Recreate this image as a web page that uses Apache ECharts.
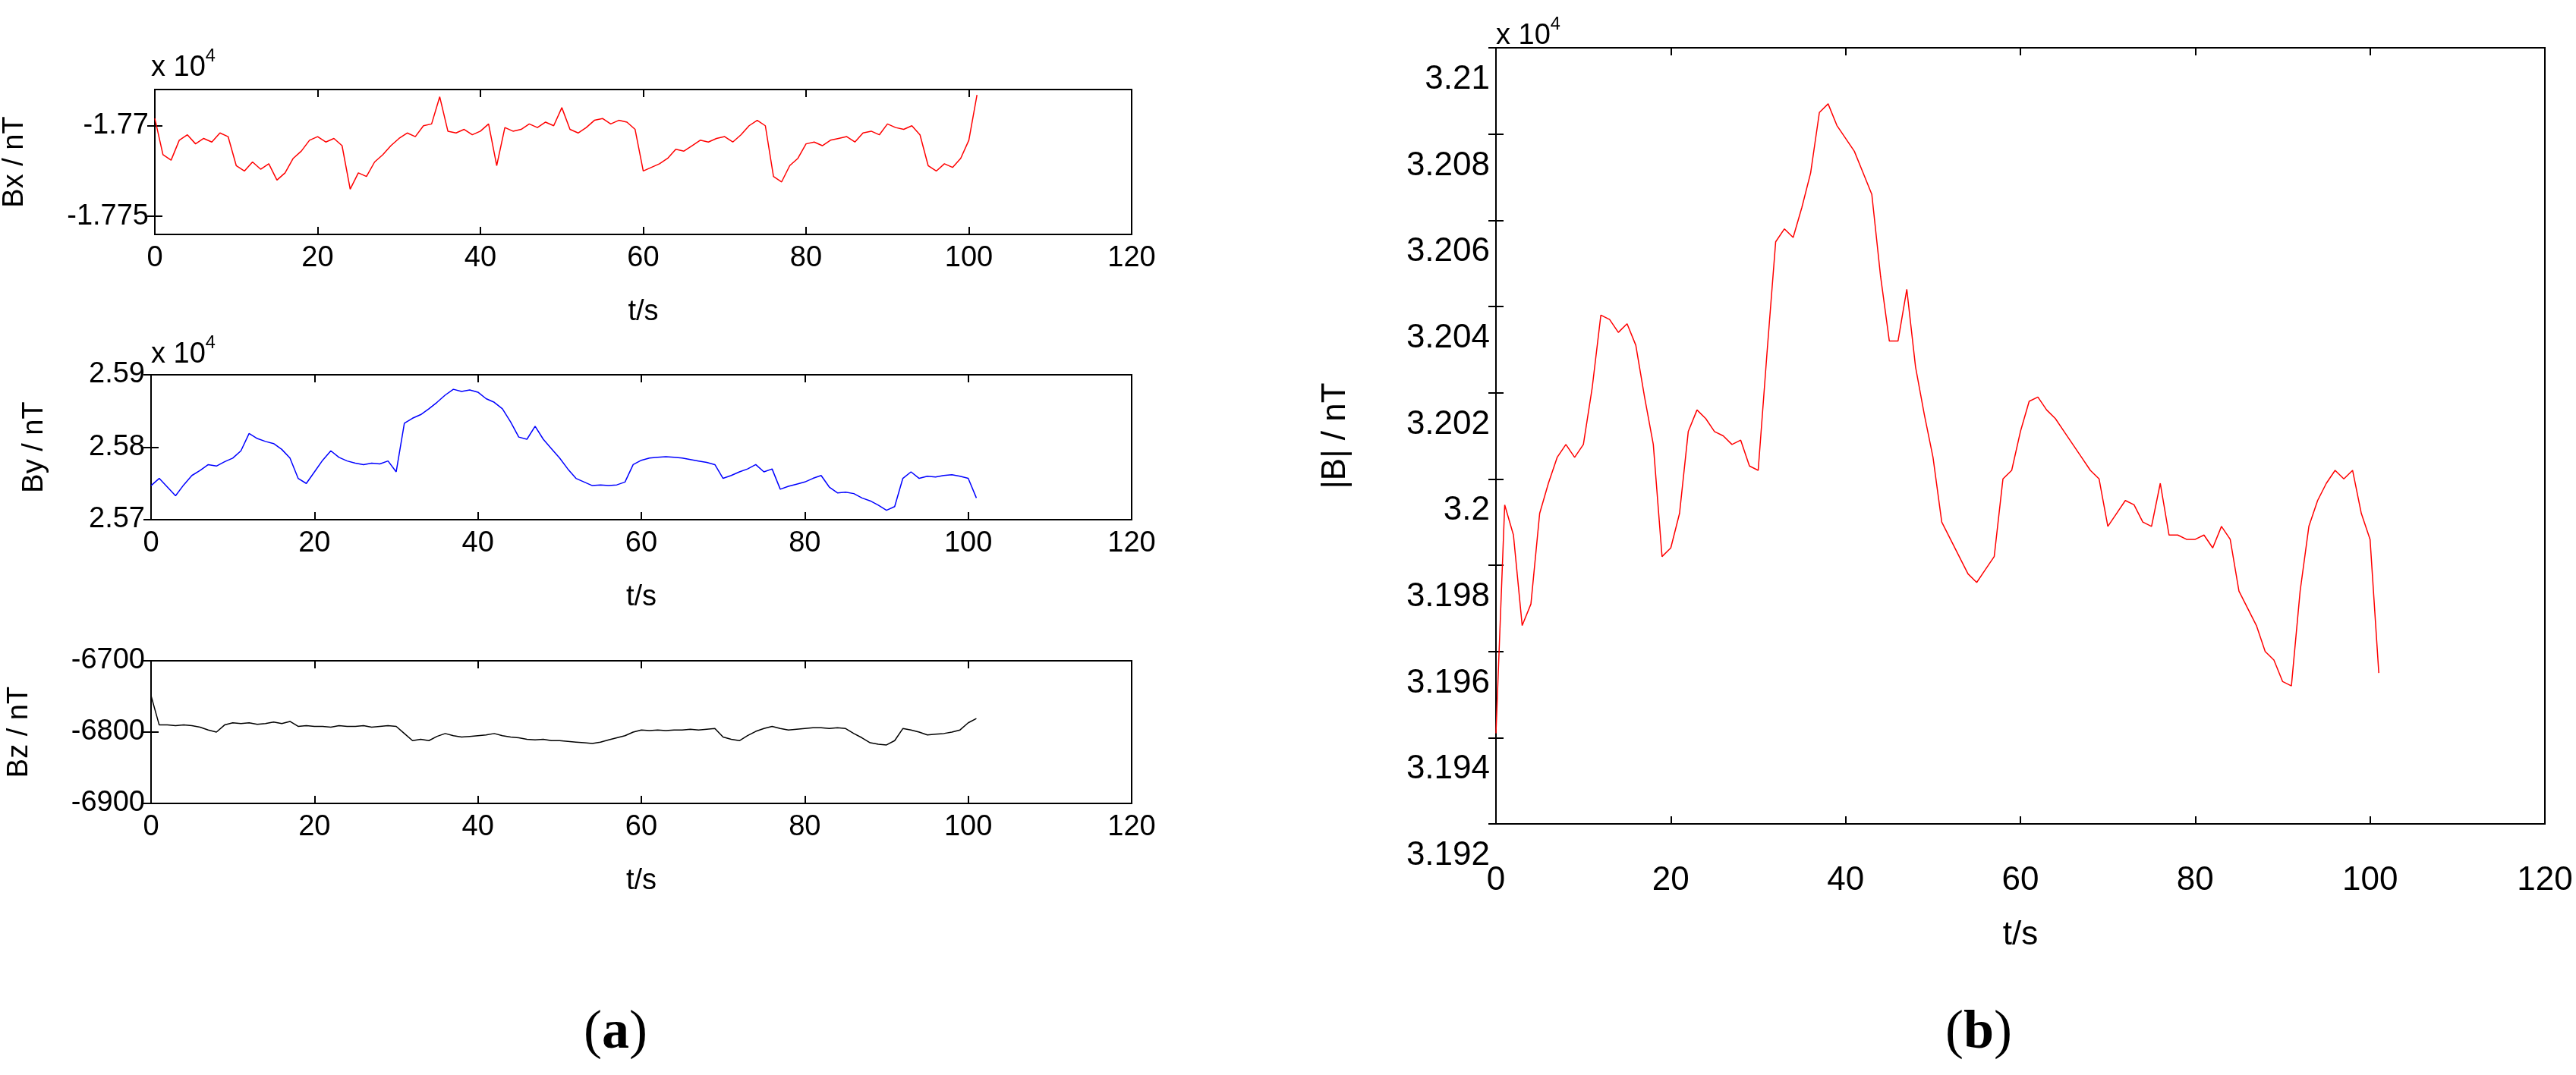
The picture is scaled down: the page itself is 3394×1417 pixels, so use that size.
<!DOCTYPE html>
<html>
<head>
<meta charset="utf-8">
<script src="https://cdn.jsdelivr.net/npm/echarts@6/dist/echarts.min.js"></script>
<style>html,body{margin:0;padding:0;background:#fff}#main{width:3394px;height:1417px}</style>
</head>
<body>
<div id="main"></div>
<script>
// time in seconds (one reading per second)
var tSec = [];
for (var i = 0; i <= 101; i++) tSec.push(i);

var bxVals = [-17696,-17716,-17719,-17708,-17705,-17710,-17707,-17709,-17704,-17706,
-17722,-17725,-17720,-17724,-17721,-17730,-17726,-17718,-17714,-17708,
-17706,-17709,-17707,-17711,-17735,-17726,-17728,-17720,-17716,-17711,
-17707,-17704,-17706,-17700,-17699,-17684,-17703,-17704,-17702,-17705,
-17703,-17699,-17722,-17701,-17703,-17702,-17699,-17701,-17698,-17700,
-17690,-17702,-17704,-17701,-17697,-17696,-17699,-17697,-17698,-17702,
-17725,-17723,-17721,-17718,-17713,-17714,-17711,-17708,-17709,-17707,
-17706,-17709,-17705,-17700,-17697,-17700,-17728,-17731,-17722,-17718,
-17710,-17709,-17711,-17708,-17707,-17706,-17709,-17704,-17703,-17705,
-17699,-17701,-17702,-17700,-17705,-17722,-17725,-17721,-17723,-17718,
-17708,-17683];

var byVals = [25747,25757,25745,25733,25748,25761,25768,25776,25774,25780,
25785,25795,25819,25812,25808,25805,25797,25785,25757,25750,
25766,25782,25795,25786,25781,25778,25776,25778,25777,25781,
25766,25833,25840,25845,25853,25862,25872,25880,25877,25879,
25876,25867,25862,25853,25835,25814,25811,25829,25811,25798,
25785,25770,25757,25752,25747,25748,25747,25748,25752,25776,
25782,25785,25786,25787,25786,25785,25783,25781,25779,25776,
25757,25761,25766,25770,25776,25766,25770,25742,25746,25749,
25752,25757,25761,25745,25737,25738,25736,25730,25726,25720,
25713,25718,25757,25766,25757,25760,25759,25761,25762,25760,
25757,25730];

var bzVals = [-6749,-6790,-6790,-6791,-6790,-6791,-6793,-6797,-6800,-6790,
-6787,-6788,-6787,-6789,-6788,-6786,-6788,-6785,-6792,-6791,
-6792,-6792,-6793,-6791,-6792,-6792,-6791,-6793,-6792,-6791,
-6792,-6802,-6812,-6810,-6812,-6806,-6802,-6805,-6807,-6806,
-6805,-6804,-6802,-6805,-6807,-6808,-6810,-6811,-6810,-6812,
-6812,-6813,-6814,-6815,-6816,-6814,-6811,-6808,-6805,-6800,
-6797,-6798,-6797,-6798,-6797,-6797,-6796,-6797,-6796,-6795,
-6807,-6810,-6812,-6805,-6799,-6795,-6792,-6795,-6797,-6796,
-6795,-6794,-6794,-6795,-6794,-6795,-6802,-6808,-6815,-6817,
-6818,-6812,-6795,-6797,-6800,-6804,-6803,-6802,-6800,-6797,
-6787,-6781];

var bVals = [31941,31994,31987,31966,31971,31992,31999,32005,32008,32005,
32008,32021,32038,32037,32034,32036,32031,32019,32008,31982,
31984,31992,32011,32016,32014,32011,32010,32008,32009,32003,
32002,32029,32055,32058,32056,32063,32071,32085,32087,32082,
32079,32076,32071,32066,32047,32032,32032,32044,32026,32015,
32005,31990,31986,31982,31978,31976,31979,31982,32000,32002,
32011,32018,32019,32016,32014,32011,32008,32005,32002,32000,
31989,31992,31995,31994,31990,31989,31999,31987,31987,31986,
31986,31987,31984,31989,31986,31974,31970,31966,31960,31958,
31953,31952,31974,31989,31995,31999,32002,32000,32002,31992,
31986,31955];

function pairs(vals) {
  return vals.map(function (v, i) { return [tSec[i], v]; });
}
function fmt4(v) { return String(parseFloat((v / 1e4).toFixed(4))); }

var fontA = 38, fontB = 44;
var baseFont = 'Liberation Sans';

var grids = [
  {left: 199, right: 1903, top: 118, height: 191},
  {left: 199, right: 1903, top: 494, height: 191},
  {left: 199, right: 1903, top: 871, height: 188},
  {left: 1971, right: 41, top: 63, height: 1023}
];
grids.forEach(function (g) { g.show = true; g.borderColor = '#000'; g.borderWidth = 2; });

var yDefs = [
  {min: -17760, max: -17680, name: 'Bx / nT', gap: 165, custom: [-17700, -17750], f: fmt4, fs: fontA},
  {min: 25700, max: 25900, interval: 100, name: 'By / nT', gap: 134, f: fmt4, fs: fontA},
  {min: -6900, max: -6700, interval: 100, name: 'Bz / nT', gap: 154, f: function (v) { return String(v); }, fs: fontA},
  {min: 31920, max: 32100, interval: 20, name: '|B| / nT', gap: 189, f: fmt4, fs: fontB}
];

var xAxis = [], yAxis = [];
grids.forEach(function (g, k) {
  var fs = k === 3 ? fontB : fontA;
  var common = {type: 'value', gridIndex: k, min: 0, max: 120, interval: 20,
    axisLine: {show: true, lineStyle: {color: '#000', width: 2}},
    axisTick: {inside: true, length: 10, lineStyle: {color: '#000', width: 2}},
    splitLine: {show: false}};
  xAxis.push(Object.assign({}, common, {position: 'bottom', name: 't/s',
    nameLocation: 'middle', nameGap: k === 3 ? 125 : 84,
    nameTextStyle: {fontSize: fs, color: '#000', fontFamily: baseFont},
    axisLabel: {fontSize: fs, color: '#000', fontFamily: baseFont, margin: k === 3 ? 53 : 13}}));
  xAxis.push(Object.assign({}, common, {position: 'top', axisLabel: {show: false}}));

  var d = yDefs[k];
  var yc = {type: 'value', gridIndex: k, min: d.min, max: d.max,
    axisLine: {show: true, lineStyle: {color: '#000', width: 2}},
    axisTick: {inside: true, length: 10, lineStyle: {color: '#000', width: 2}},
    splitLine: {show: false}};
  if (d.interval) yc.interval = d.interval;
  var lbl = {fontSize: d.fs, color: '#000', fontFamily: baseFont, margin: 8, formatter: d.f};
  if (d.custom) {
    lbl.customValues = d.custom;
    yc.axisTick.customValues = d.custom;
  }
  if (k === 3) { lbl.verticalAlign = 'top'; lbl.padding = [20, 0, 0, 0]; }
  yAxis.push(Object.assign({}, yc, {position: 'left', name: d.name, nameLocation: 'middle',
    nameGap: d.gap, nameRotate: 90,
    nameTextStyle: {fontSize: d.fs, color: '#000', fontFamily: baseFont},
    axisLabel: lbl}));
  var yr = Object.assign({}, yc, {position: 'right', axisLabel: {show: false}});
  yr.axisTick = Object.assign({}, yc.axisTick);
  yAxis.push(yr);
});

var seriesDefs = [
  {vals: bxVals, color: '#ff0000'},
  {vals: byVals, color: '#0000ff'},
  {vals: bzVals, color: '#000000'},
  {vals: bVals, color: '#ff0000'}
];
var series = seriesDefs.map(function (s, k) {
  return {type: 'line', xAxisIndex: 2 * k, yAxisIndex: 2 * k, data: pairs(s.vals),
    showSymbol: false, lineStyle: {color: s.color, width: 1.5}, animation: false};
});

function expText(x, y, fs) {
  return {type: 'text', left: x, top: y, style: {
    text: '{a|x 10}{b|4}', rich: {
      a: {fontSize: fs, fontFamily: baseFont, fill: '#000', verticalAlign: 'bottom'},
      b: {fontSize: fs * 0.62, fontFamily: baseFont, fill: '#000', verticalAlign: 'top', padding: [0, 0, fs * 0.6, 0]}
    }}};
}
function panelText(x, y, ch) {
  return {type: 'text', left: x, top: y, style: {
    text: '{n|(}{b|' + ch + '}{n|)}', rich: {
      n: {fontSize: 72, fontFamily: 'Liberation Serif', fill: '#000'},
      b: {fontSize: 72, fontFamily: 'Liberation Serif', fontWeight: 'bold', fill: '#000'}
    }}};
}

var chart = echarts.init(document.getElementById('main'), null, {renderer: 'canvas'});
chart.setOption({
  backgroundColor: '#fff',
  animation: false,
  grid: grids,
  xAxis: xAxis,
  yAxis: yAxis,
  series: series,
  graphic: [
    expText(199, 62, fontA),
    expText(199, 440, fontA),
    expText(1971, 20, 38),
    panelText(769, 1326, 'a'),
    panelText(2563, 1326, 'b')
  ]
});
</script>
</body>
</html>
